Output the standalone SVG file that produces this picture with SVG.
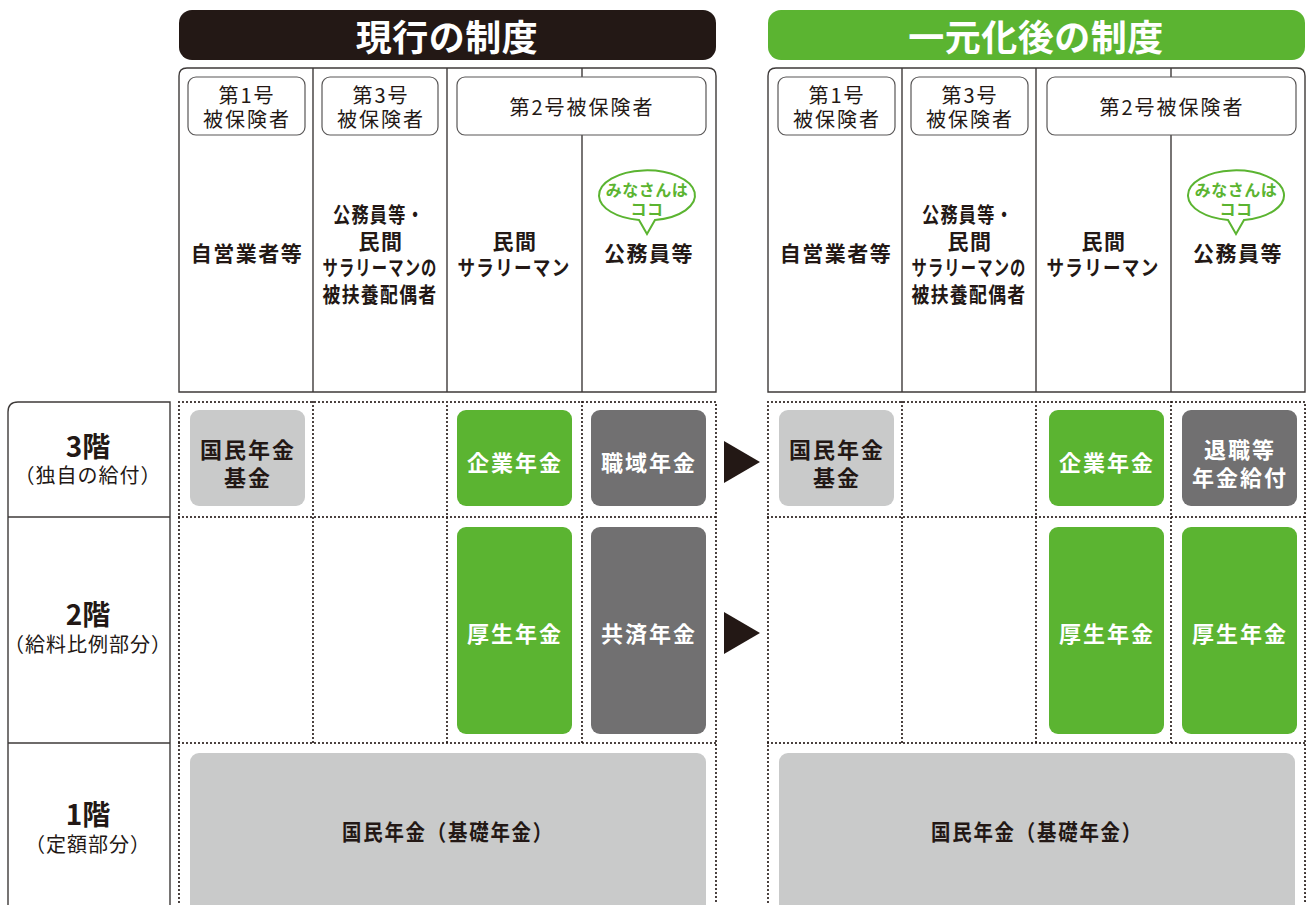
<svg xmlns="http://www.w3.org/2000/svg" width="1306" height="905" viewBox="0 0 1306 905">
<defs>
<style>
text{font-family:"Noto Sans CJK JP","Noto Sans",sans-serif;text-anchor:middle;dominant-baseline:central}
.ttl{font-size:36px;font-weight:700;fill:#fff;letter-spacing:0.5px}
.sub{font-size:20px;fill:#231815;letter-spacing:2px}
.col{font-size:21px;font-weight:700;fill:#231815;letter-spacing:1.5px}
.bx{font-size:22px;font-weight:700;fill:#fff;letter-spacing:2px}
.bxd{font-size:22px;font-weight:700;fill:#231815;letter-spacing:2px}
.lv{font-size:28px;font-weight:700;fill:#231815}
.lvs{font-size:20px;fill:#231815;letter-spacing:1px}
.bub{font-size:16px;font-weight:700;fill:#5bb431;letter-spacing:0.5px}
.frame{fill:#fff;stroke:#3e3a39;stroke-width:1.4}
.ln{stroke:#3e3a39;stroke-width:1.4;fill:none}
.sb{fill:#fff;stroke:#595757;stroke-width:1.2}
.dot{stroke:#231815;stroke-width:2.2;stroke-dasharray:0 4;stroke-linecap:round;fill:none}
.g{fill:#5bb431}
.dg{fill:#717071}
.lg{fill:#c9caca}
</style>
</defs>

<!-- Left label column -->
<g id="levels">
<path class="ln" d="M8,905 V412 Q8,402 18,402 H170 V905"/>
<line class="ln" x1="8" y1="517" x2="170" y2="517"/>
<line class="ln" x1="8" y1="743" x2="170" y2="743"/>
<text class="lv" x="88" y="445">3階</text>
<text class="lvs" x="88" y="474">（独自の給付）</text>
<text class="lv" x="88" y="613">2階</text>
<text class="lvs" x="88" y="643">（給料比例部分）</text>
<text class="lv" x="88" y="813">1階</text>
<text class="lvs" x="88" y="843">（定額部分）</text>
</g>

<!-- Current system -->
<g id="current-title">
<rect x="179" y="10" width="537" height="50" rx="13" fill="#231815"/>
<text class="ttl" x="447" y="35">現行の制度</text>
</g>
<g id="current-header">
<path class="frame" d="M179,392 V76 Q179,68 187,68 H708 Q716,68 716,76 V392 Z"/>
<line class="ln" x1="313" y1="68" x2="313" y2="392"/>
<line class="ln" x1="447" y1="68" x2="447" y2="392"/>
<line class="ln" x1="582" y1="68" x2="582" y2="392"/>
<rect class="sb" x="188" y="77" width="117" height="58" rx="8"/>
<text class="sub" x="247" y="94">第1号</text>
<text class="sub" x="247" y="118">被保険者</text>
<rect class="sb" x="322" y="77" width="116" height="58" rx="8"/>
<text class="sub" x="381" y="94">第3号</text>
<text class="sub" x="381" y="118">被保険者</text>
<rect class="sb" x="457" y="77" width="249" height="58" rx="8"/>
<text class="sub" x="582" y="106">第2号被保険者</text>
<text class="col" x="247" y="252">自営業者等</text>
<text class="col" x="379" y="213" textLength="92" lengthAdjust="spacingAndGlyphs">公務員等・</text>
<text class="col" x="381" y="240">民間</text>
<text class="col" x="380" y="266" textLength="115" lengthAdjust="spacingAndGlyphs">サラリーマンの</text>
<text class="col" x="380" y="293" textLength="115" lengthAdjust="spacingAndGlyphs">被扶養配偶者</text>
<text class="col" x="515" y="240">民間</text>
<text class="col" x="514" y="266" textLength="113" lengthAdjust="spacingAndGlyphs">サラリーマン</text>
<path d="M599,196 A48,25 0 1 1 655,220 L647,234 L639,220 A48,25 0 0 1 599,196 Z" fill="#fff" stroke="#5bb431" stroke-width="2"/>
<text class="bub" x="647" y="189">みなさんは</text>
<text class="bub" x="647" y="208">ココ</text>
<text class="col" x="649" y="252">公務員等</text>
</g>
<g id="current-grid">
<path class="dot" d="M179,402 H716 V905 M179,402 V905 M179,517 H716 M179,743 H716 M313,402 V743 M447,402 V743 M582,402 V743"/>
<rect class="lg" x="190" y="410" width="115" height="96" rx="9"/>
<text class="bxd" x="248" y="448">国民年金</text>
<text class="bxd" x="248" y="476">基金</text>
<rect class="g" x="457" y="410" width="115" height="96" rx="9"/>
<text class="bx" x="515" y="461">企業年金</text>
<rect class="dg" x="591" y="410" width="115" height="96" rx="9"/>
<text class="bx" x="649" y="461">職域年金</text>
<rect class="g" x="457" y="527" width="115" height="207" rx="9"/>
<text class="bx" x="515" y="632">厚生年金</text>
<rect class="dg" x="591" y="527" width="115" height="207" rx="9"/>
<text class="bx" x="649" y="632">共済年金</text>
<rect class="lg" x="190" y="753" width="516" height="170" rx="9"/>
<text class="bxd" x="448" y="830" textLength="212" lengthAdjust="spacingAndGlyphs">国民年金（基礎年金）</text>
</g>

<!-- Arrows -->
<g id="connectors">
<polygon points="724,441 760,462 724,483" fill="#231815"/>
<polygon points="724,612 760,633 724,654" fill="#231815"/>
</g>

<!-- Unified system -->
<g id="unified-title">
<rect x="768" y="10" width="537" height="50" rx="13" fill="#5bb431"/>
<text class="ttl" x="1036" y="35">一元化後の制度</text>
</g>
<g id="unified-header">
<path class="frame" d="M768,392 V76 Q768,68 776,68 H1297 Q1305,68 1305,76 V392 Z"/>
<line class="ln" x1="902" y1="68" x2="902" y2="392"/>
<line class="ln" x1="1036" y1="68" x2="1036" y2="392"/>
<line class="ln" x1="1171" y1="68" x2="1171" y2="392"/>
<rect class="sb" x="778" y="77" width="117" height="58" rx="8"/>
<text class="sub" x="837" y="94">第1号</text>
<text class="sub" x="837" y="118">被保険者</text>
<rect class="sb" x="911" y="77" width="117" height="58" rx="8"/>
<text class="sub" x="970" y="94">第3号</text>
<text class="sub" x="970" y="118">被保険者</text>
<rect class="sb" x="1047" y="77" width="249" height="58" rx="8"/>
<text class="sub" x="1172" y="106">第2号被保険者</text>
<text class="col" x="836" y="252">自営業者等</text>
<text class="col" x="968" y="213" textLength="92" lengthAdjust="spacingAndGlyphs">公務員等・</text>
<text class="col" x="970" y="240">民間</text>
<text class="col" x="969" y="266" textLength="115" lengthAdjust="spacingAndGlyphs">サラリーマンの</text>
<text class="col" x="969" y="293" textLength="115" lengthAdjust="spacingAndGlyphs">被扶養配偶者</text>
<text class="col" x="1104" y="240">民間</text>
<text class="col" x="1103" y="266" textLength="113" lengthAdjust="spacingAndGlyphs">サラリーマン</text>
<path d="M1188,196 A48,25 0 1 1 1244,220 L1236,234 L1228,220 A48,25 0 0 1 1188,196 Z" fill="#fff" stroke="#5bb431" stroke-width="2"/>
<text class="bub" x="1236" y="189">みなさんは</text>
<text class="bub" x="1236" y="208">ココ</text>
<text class="col" x="1238" y="252">公務員等</text>
</g>
<g id="unified-grid">
<path class="dot" d="M768,402 H1305 V905 M768,402 V905 M768,517 H1305 M768,743 H1305 M902,402 V743 M1036,402 V743 M1171,402 V743"/>
<rect class="lg" x="779" y="410" width="115" height="96" rx="9"/>
<text class="bxd" x="837" y="448">国民年金</text>
<text class="bxd" x="837" y="476">基金</text>
<rect class="g" x="1049" y="410" width="115" height="96" rx="9"/>
<text class="bx" x="1107" y="461">企業年金</text>
<rect class="dg" x="1182" y="410" width="115" height="96" rx="9"/>
<text class="bx" x="1240" y="448">退職等</text>
<text class="bx" x="1240" y="476">年金給付</text>
<rect class="g" x="1049" y="527" width="115" height="207" rx="9"/>
<text class="bx" x="1107" y="632">厚生年金</text>
<rect class="g" x="1182" y="527" width="115" height="207" rx="9"/>
<text class="bx" x="1240" y="632">厚生年金</text>
<rect class="lg" x="779" y="753" width="516" height="170" rx="9"/>
<text class="bxd" x="1037" y="830" textLength="212" lengthAdjust="spacingAndGlyphs">国民年金（基礎年金）</text>
</g>
</svg>
